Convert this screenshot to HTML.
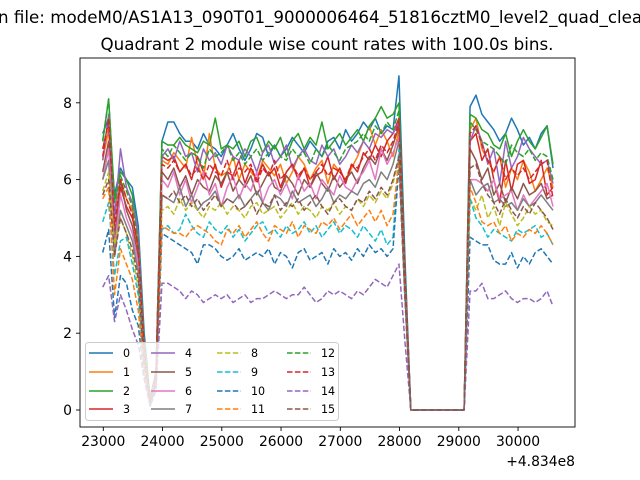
<!DOCTYPE html>
<html><head><meta charset="utf-8"><style>
html,body{margin:0;padding:0;background:#fff;}
svg{display:block;font-family:"DejaVu Sans","Liberation Sans",sans-serif;}
</style></head><body>
<svg id="chart" width="640" height="480" viewBox="0 0 640 480" xmlns="http://www.w3.org/2000/svg">
<rect x="0" y="0" width="640" height="480" fill="#fff"/>
<text x="-2" y="23" font-size="16.7" fill="#000">n file: modeM0/AS1A13_090T01_9000006464_51816cztM0_level2_quad_clean.evt</text>
<text x="327" y="50" font-size="16.7" text-anchor="middle" fill="#000">Quadrant 2 module wise count rates with 100.0s bins.</text>
<g id="plot"></g>
</svg>
<script>
const categories = [];
for (let i = 0; i < 77; i++) categories.push(22990 + 100 * i);
const xTicks = [23000, 24000, 25000, 26000, 27000, 28000, 29000, 30000];
const yTicks = [0, 2, 4, 6, 8];
const seriesNames = ['0','1','2','3','4','5','6','7','8','9','10','11','12','13','14','15'];
const s0 = [7.2,7.6,5.6,6.3,6.0,5.8,4.8,2.0,0.3,1.0, 7.0,7.5,7.5,7.2,7.0,7.0,6.8,7.2,6.9,6.8,6.6,6.9,7.2,6.8,6.5,6.8,7.2,7.1,6.6,6.9,6.6,6.8,7.1,6.9,6.7,7.0,6.8,6.6,7.0,7.1,6.8,7.3,7.0,7.2,7.5,7.3,7.6,7.2,7.4,7.3,8.7, 4.0,0,0,0,0,0,0,0,0,0,0, 7.9,8.2,7.7,7.5,7.3,7.0,7.2,7.6,7.3,6.9,7.1,6.8,7.2,7.4,6.3];
const s1 = [6.5,7.3,5.0,6.0,5.5,5.2,4.0,1.5,0.2,0.8, 6.5,6.4,6.7,6.5,6.3,7.1,6.4,6.0,7.2,6.3,6.1,6.2,6.6,6.0,6.4,6.2,6.0,6.5,6.3,6.1,6.4,5.9,6.2,6.6,6.4,6.0,6.3,6.5,5.9,6.4,6.2,6.0,6.3,6.6,7.0,7.4,6.9,7.3,7.0,6.6,7.3, 3.4,0,0,0,0,0,0,0,0,0,0, 7.3,7.6,6.8,6.5,6.2,6.6,5.8,6.3,6.0,6.5,6.2,5.7,6.0,6.3,5.8];
const s2 = [7.0,8.1,5.5,6.2,6.0,5.6,4.5,1.8,0.3,1.0, 7.0,6.9,6.9,7.1,6.9,6.8,6.7,7.0,6.9,7.6,6.8,6.9,6.8,7.0,6.6,7.0,7.1,6.7,7.0,6.8,7.1,6.6,7.0,7.2,6.8,7.1,6.9,7.5,6.8,7.0,7.2,6.9,7.1,7.3,7.0,7.4,7.6,7.9,7.6,7.7,8.0, 3.7,0,0,0,0,0,0,0,0,0,0, 7.7,7.6,7.3,7.2,6.9,6.8,7.2,6.6,7.0,7.3,7.0,6.8,7.1,7.4,6.4];
const s3 = [6.8,7.5,4.5,5.8,5.3,5.0,4.3,1.6,0.2,0.9, 6.6,6.5,6.6,6.2,6.4,6.0,6.6,6.2,6.0,6.4,5.8,6.2,6.1,6.5,5.9,6.3,6.0,6.4,6.1,6.3,5.8,6.2,6.4,6.0,6.3,5.8,6.1,6.2,6.6,6.0,6.3,5.9,6.4,6.2,6.7,6.5,6.9,6.6,7.0,7.2,7.6, 3.5,0,0,0,0,0,0,0,0,0,0, 7.0,7.2,6.5,6.8,6.0,5.4,6.5,5.7,6.4,6.5,5.9,6.0,6.5,5.6,5.8];
const s4 = [6.5,7.7,5.0,6.8,5.8,5.4,4.6,1.7,0.2,1.0, 6.6,6.8,6.5,7.0,6.6,6.7,6.2,6.8,6.5,6.7,6.4,6.9,6.6,6.5,6.8,6.6,6.2,6.7,6.9,6.4,6.6,6.9,6.3,6.6,6.8,6.5,6.4,6.9,6.6,6.8,6.4,6.6,6.9,6.7,7.0,6.8,7.2,7.1,7.3,7.2,7.5, 3.5,0,0,0,0,0,0,0,0,0,0, 7.0,7.4,7.0,6.4,6.8,5.9,7.0,6.3,6.6,7.1,6.8,6.6,6.4,6.5,5.9];
const s5 = [6.2,7.0,4.4,6.0,5.2,4.8,4.0,1.4,0.1,0.8, 6.2,6.0,6.3,5.8,6.1,5.6,6.0,5.8,5.7,6.1,5.9,6.2,5.7,6.0,5.8,6.1,5.6,5.9,6.2,5.8,5.7,6.1,5.9,5.6,6.0,5.8,6.2,5.9,5.7,6.1,5.8,6.0,6.2,5.9,6.3,6.6,6.4,6.8,6.5,6.9,7.4, 3.4,0,0,0,0,0,0,0,0,0,0, 6.8,6.5,6.0,6.3,5.6,5.9,5.4,5.8,5.5,5.9,5.6,5.7,5.9,5.5,5.6];
const s6 = [6.0,6.8,4.2,5.6,5.0,4.6,3.8,1.3,0.2,0.8, 6.0,5.8,6.2,5.6,6.0,5.4,5.8,6.2,5.6,5.9,5.3,5.8,6.1,5.5,5.9,5.7,6.2,5.4,5.8,6.0,5.6,5.9,5.5,6.1,5.7,5.9,5.5,6.0,5.8,5.6,6.1,5.8,5.7,6.0,6.2,6.5,6.0,6.8,6.4,6.7,7.1, 3.3,0,0,0,0,0,0,0,0,0,0, 6.0,6.0,5.9,5.7,6.0,5.5,5.6,5.7,5.2,5.6,5.3,5.5,5.7,5.9,5.3];
const s7 = [6.0,6.5,4.0,5.2,4.8,4.4,3.6,1.2,0.1,0.7, 5.6,5.5,5.4,5.8,5.3,5.6,5.2,5.4,5.5,5.7,5.3,5.5,5.4,5.6,5.3,5.5,5.7,5.4,5.2,5.6,5.5,5.3,5.7,5.4,5.5,5.6,5.3,5.5,5.8,5.4,5.6,5.5,5.7,5.6,5.9,6.0,5.8,6.2,6.0,6.4,7.0, 3.2,0,0,0,0,0,0,0,0,0,0, 6.0,5.6,5.8,5.9,5.4,5.5,5.3,5.4,5.2,5.5,5.3,5.4,5.6,5.4,5.2];
const s8 = [5.7,6.2,4.3,5.0,4.6,4.0,3.2,1.1,0.2,0.8, 5.2,5.3,5.1,5.5,5.2,5.4,5.2,5.0,5.3,5.2,5.4,5.1,5.3,5.2,5.0,5.3,5.4,5.1,5.2,5.3,5.0,5.2,5.4,5.1,5.3,5.2,5.0,5.3,5.2,5.4,5.1,5.3,5.2,5.5,5.3,5.6,5.4,5.7,5.5,5.9,6.6, 3.0,0,0,0,0,0,0,0,0,0,0, 5.5,5.2,5.6,5.0,5.3,4.8,5.4,5.1,4.8,5.0,5.3,5.1,5.2,4.9,4.8];
const s9 = [4.9,5.4,3.5,4.4,4.5,3.8,3.0,1.0,0.2,0.7, 4.7,4.8,4.6,4.7,5.1,4.8,4.6,4.5,4.9,4.7,4.6,4.8,4.5,4.7,4.4,4.6,4.8,4.9,4.6,4.7,4.5,4.8,4.6,4.7,4.9,4.6,4.8,4.5,4.7,4.9,4.6,4.8,4.7,4.5,4.8,4.6,4.4,4.7,4.3,4.5,6.8, 3.1,0,0,0,0,0,0,0,0,0,0, 5.5,5.0,4.8,4.5,4.7,4.6,4.5,4.4,4.7,4.6,4.7,4.8,4.5,4.6,4.3];
const s10 = [4.1,4.7,2.4,3.5,3.3,2.6,2.2,0.9,0.1,0.6, 4.6,4.5,4.4,4.3,4.2,4.1,3.8,4.3,4.3,4.2,4.0,3.9,4.0,4.2,3.9,4.0,4.1,4.0,4.2,3.8,4.1,4.0,3.7,4.1,4.2,3.9,4.0,4.1,3.8,4.2,4.0,4.1,3.9,4.2,4.0,4.3,4.1,4.2,4.0,4.2,6.4, 2.9,0,0,0,0,0,0,0,0,0,0, 4.5,4.4,4.3,4.3,3.9,3.8,3.8,4.1,3.7,4.0,3.8,4.1,4.2,4.0,3.8];
const s11 = [5.5,5.8,3.0,4.2,3.8,3.4,2.6,1.0,0.2,0.7, 4.8,4.7,4.6,4.6,4.5,4.7,4.8,4.7,4.6,4.4,4.3,4.7,4.6,4.8,4.5,4.7,4.9,4.6,4.4,4.8,4.7,4.6,4.9,4.5,4.8,4.7,4.6,4.9,4.8,5.0,4.7,4.9,5.1,4.8,5.0,5.2,4.9,5.2,4.8,5.1,6.5, 3.0,0,0,0,0,0,0,0,0,0,0, 5.8,5.4,4.9,4.8,4.9,4.6,4.8,4.4,4.6,4.5,4.7,4.6,4.8,4.6,4.3];
const s12 = [7.0,8.1,5.4,6.1,5.7,5.3,4.4,1.7,0.3,1.0, 6.8,6.6,6.9,6.7,6.5,6.7,6.6,6.3,6.8,6.6,6.7,6.9,6.5,6.7,6.4,6.6,6.8,6.5,6.7,6.9,6.6,6.5,6.8,6.6,6.7,6.4,6.8,6.6,6.9,6.7,6.5,6.8,6.9,7.0,7.2,7.0,7.4,7.2,7.5,7.3,7.8, 3.6,0,0,0,0,0,0,0,0,0,0, 7.5,7.3,7.0,6.9,6.8,6.6,6.4,6.9,6.7,6.6,6.8,6.5,6.7,6.6,6.0];
const s13 = [6.6,7.6,4.8,6.0,5.5,5.1,4.2,1.6,0.2,0.9, 6.4,6.3,6.5,6.2,6.4,6.1,6.3,6.0,6.4,6.2,6.1,6.5,6.0,6.3,6.2,6.4,5.9,6.3,6.1,6.5,6.0,6.2,6.4,6.1,6.3,6.0,6.2,6.4,6.1,6.3,6.2,6.0,6.4,6.3,6.6,6.8,6.5,6.9,6.7,7.0,7.5, 3.5,0,0,0,0,0,0,0,0,0,0, 7.2,7.4,6.9,6.5,6.2,6.6,6.0,6.3,6.1,6.3,6.0,6.2,6.4,6.5,5.5];
const s14 = [3.2,3.5,2.3,3.0,2.6,2.1,1.7,0.8,0.1,0.5, 3.3,3.3,3.2,3.1,2.9,3.1,3.0,2.8,2.9,3.0,2.9,3.0,2.8,2.9,3.0,2.8,2.9,2.9,3.0,3.1,3.0,2.9,3.0,3.0,3.2,3.0,2.8,2.9,3.1,3.0,3.1,3.0,2.9,3.1,3.0,3.2,3.4,3.3,3.2,3.5,3.8, 1.8,0,0,0,0,0,0,0,0,0,0, 3.1,3.1,3.3,2.9,2.9,3.0,3.1,2.9,2.8,2.9,2.9,2.8,2.9,3.1,2.7];
const s15 = [5.6,6.0,4.0,5.0,4.6,4.2,3.4,1.2,0.2,0.7, 5.6,5.5,5.7,5.4,5.6,5.3,5.5,5.2,5.4,5.6,5.3,5.5,5.4,5.2,5.3,5.5,5.1,5.4,5.3,5.6,5.2,5.4,5.3,5.5,5.2,5.4,5.6,5.3,5.1,5.4,5.5,5.3,5.2,5.5,5.4,5.7,5.5,5.8,5.6,6.0,6.6, 3.0,0,0,0,0,0,0,0,0,0,0, 6.3,6.4,5.9,5.6,5.4,5.1,5.5,5.2,5.0,5.3,5.1,5.4,5.2,5.0,4.7];
const seriesValues = [s0,s1,s2,s3,s4,s5,s6,s7,s8,s9,s10,s11,s12,s13,s14,s15];

const NS = 'http://www.w3.org/2000/svg';
const L = 80, R = 575, T = 58, B = 427;
const X0 = 23000, PX0 = 103.3, PXPER = 0.05925;
const Y0PX = 410, YPER = 38.4;
function xScale(v){ return PX0 + (v - X0) * PXPER; }
function yScale(v){ return Y0PX - v * YPER; }
const colors = ['#1f77b4','#ff7f0e','#2ca02c','#d62728','#9467bd','#8c564b','#e377c2','#7f7f7f','#bcbd22','#17becf'];
const plot = document.getElementById('plot');
function mk(tag, attrs){ const e = document.createElementNS(NS, tag); for (const k in attrs) e.setAttribute(k, attrs[k]); return e; }

const clip = mk('clipPath', {id:'clipArea'});
clip.appendChild(mk('rect', {x:L, y:T, width:R-L, height:B-T}));
plot.appendChild(clip);

for (let s = 0; s < seriesValues.length; s++) {
  const vals = seriesValues[s];
  let d = '';
  for (let i = 0; i < vals.length; i++) d += (i ? 'L' : 'M') + xScale(categories[i]).toFixed(2) + ',' + yScale(vals[i]).toFixed(2);
  const p = mk('path', {d:d, fill:'none', stroke:colors[s % 10], 'stroke-width':1.5, 'clip-path':'url(#clipArea)', 'stroke-linejoin':'round'});
  if (s >= 8) p.setAttribute('stroke-dasharray', '5.5,2.4');
  
  
  plot.appendChild(p);
}

const frame = mk('rect', {x:L, y:T, width:R-L, height:B-T, fill:'none', stroke:'#000', 'stroke-width':0.9});


plot.appendChild(frame);

xTicks.forEach(v => {
  const x = xScale(v);
  const t = mk('line', {x1:x, x2:x, y1:B, y2:B+4, stroke:'#000', 'stroke-width':0.9});
  
  
  plot.appendChild(t);
  const lb = mk('text', {x:x, y:B+19, 'font-size':13.9, 'text-anchor':'middle', fill:'#000'});
  lb.textContent = String(v);
  
  
  plot.appendChild(lb);
});
yTicks.forEach(v => {
  const y = yScale(v);
  const t = mk('line', {x1:L-4, x2:L, y1:y, y2:y, stroke:'#000', 'stroke-width':0.9});
  
  
  plot.appendChild(t);
  const lb = mk('text', {x:L-8, y:y+5, 'font-size':13.9, 'text-anchor':'end', fill:'#000'});
  lb.textContent = String(v);
  
  
  plot.appendChild(lb);
});
const off = mk('text', {x:R, y:466, 'font-size':13.9, 'text-anchor':'end', fill:'#000'});
off.textContent = '+4.834e8';


plot.appendChild(off);

// legend
const lg = mk('g', {});


plot.appendChild(lg);
const box = mk('rect', {x:85.5, y:342.5, width:253, height:78, rx:3, fill:'#fff', 'fill-opacity':0.8, stroke:'#ccc', 'stroke-width':1});


lg.appendChild(box);
const colX = [89, 151, 217, 287];
const rowY = [353, 372, 391, 409];
for (let s = 0; s < seriesNames.length; s++) {
  const c = Math.floor(s / 4), r = s % 4;
  const ln = mk('line', {x1:colX[c], x2:colX[c]+24, y1:rowY[r], y2:rowY[r], stroke:colors[s % 10], 'stroke-width':1.5});
  if (s >= 8) ln.setAttribute('stroke-dasharray', '5.5,2.4');
  
  
  lg.appendChild(ln);
  const tx = mk('text', {x:colX[c]+34, y:rowY[r]+4, 'font-size':11.1, fill:'#000'});
  tx.textContent = seriesNames[s];
  
  
  lg.appendChild(tx);
}
</script>
</body></html>
